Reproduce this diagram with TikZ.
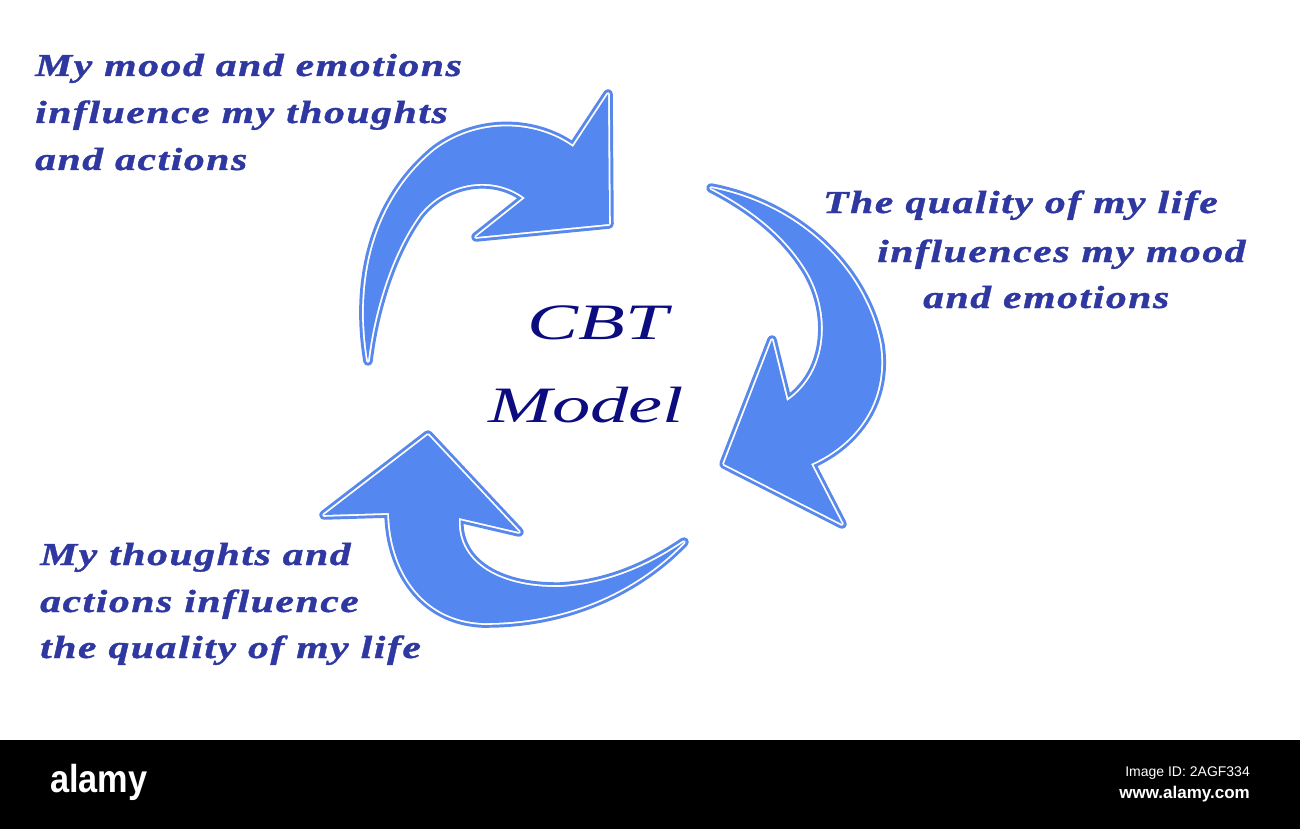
\documentclass[tikz,border=0pt]{standalone}
\usepackage{fontspec}
\newfontfamily\lblfont[FakeStretch=1.3,LetterSpace=5,FakeBold=1.2]{Liberation Serif}
\newfontfamily\titlefont[FakeStretch=1.5]{Liberation Serif}
\newfontfamily\wmfont{Liberation Sans}
\newfontfamily\wmboldfont[FakeStretch=0.88]{Liberation Sans}
\definecolor{arrowblue}{RGB}{84,136,240}
\definecolor{edgeblue}{RGB}{88,136,236}
\definecolor{lbltext}{RGB}{46,56,160}
\definecolor{titletext}{RGB}{12,12,128}
\tikzset{
  cyclearrow/.style={preaction={draw=edgeblue,line width=9.5,line join=round},
                     preaction={draw=white,line width=3.6,line join=round},
                     fill=arrowblue},
  lbl/.style={anchor=base west,inner sep=0,text=lbltext,font=\lblfont\bfseries\itshape\fontsize{32}{47}\selectfont},
  ttl/.style={anchor=base,inner sep=0,text=titletext,font=\titlefont\itshape\fontsize{51}{60}\selectfont},
}
\begin{document}
\begin{tikzpicture}[x=1pt,y=-1pt]
\useasboundingbox (0,0) rectangle (1300,829);
\fill[white] (0,0) rectangle (1300,740);
% watermark band
\fill[black] (0,740) rectangle (1300,829);
\node[anchor=base west,inner sep=0,text=white,font=\wmboldfont\bfseries\fontsize{39}{44}\selectfont] (alamy) at (50,792) {alamy};
\node[anchor=base east,inner sep=0,text=white,font=\wmfont\fontsize{14}{16}\selectfont] (imgid) at (1250,776) {Image ID: 2AGF334};
\node[anchor=base east,inner sep=0,text=white,font=\wmfont\bfseries\fontsize{17}{19}\selectfont] (www) at (1250,798) {www.alamy.com};

% arrow 1 (top)
\path[cyclearrow] (368,361)
  .. controls (356,290) and (368,205) .. (435,150)
  .. controls (478,118) and (535,120) .. (573,147)
  -- (608,94) -- (609,224) -- (476,237) -- (525,198)
  .. controls (495,175) and (448,180) .. (420,214)
  .. controls (392,252) and (374,310) .. cycle;
% arrow 2 (right)
\path[cyclearrow] (711,188)
  .. controls (800,205) and (866,270) .. (880,345)
  .. controls (888,400) and (858,443) .. (811,464)
  -- (842,524) -- (724,464) -- (772,340) -- (787,401)
  .. controls (830,372) and (832,310) .. (805,268)
  .. controls (782,232) and (748,207) .. cycle;
% arrow 3 (bottom)
\path[cyclearrow] (684,542)
  .. controls (640,588) and (570,624) .. (482,623)
  .. controls (422,620) and (390,570) .. (389,513)
  -- (324,515) -- (428,435) -- (519,532) -- (459,518)
  .. controls (456,560) and (495,588) .. (560,587)
  .. controls (610,584) and (650,565) .. cycle;

% labels
\node[lbl] (tl1) at (35,76) {My mood and emotions};
\node[lbl] (tl2) at (35,123) {influence my thoughts};
\node[lbl] (tl3) at (35,170) {and actions};
\node[lbl] (r1) at (823,213) {The quality of my life};
\node[lbl] (r2) at (877,262) {influences my mood};
\node[lbl] (r3) at (923,308) {and emotions};
\node[lbl] (bl1) at (40,565) {My thoughts and};
\node[lbl] (bl2) at (40,612) {actions influence};
\node[lbl] (bl3) at (40,658) {the quality of my life};
% title
\node[ttl] (cbt) at (598,339) {CBT};
\node[ttl] (model) at (586,422) {Model};
\end{tikzpicture}
\end{document}
